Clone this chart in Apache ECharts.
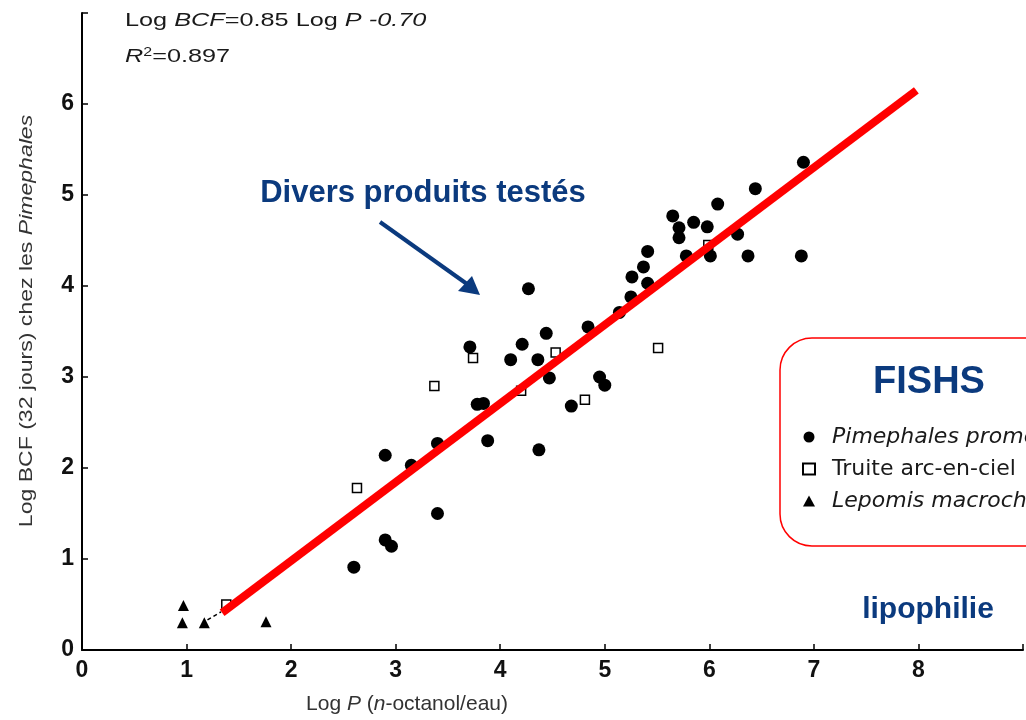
<!DOCTYPE html>
<html>
<head>
<meta charset="utf-8">
<script src="https://cdn.jsdelivr.net/npm/echarts@6/dist/echarts.min.js"></script>
<style>
html,body{margin:0;padding:0;background:#fff;}
#chart{width:1026px;height:720px;}
</style>
</head>
<body>
<div id="chart"></div>
<script>
// ---- data ----
const pimephales = [
  [2.60,0.91],[2.90,1.21],[2.96,1.14],[2.90,2.14],[3.15,2.03],[3.40,2.27],[3.40,1.50],
  [3.88,2.30],[4.37,2.20],[3.78,2.70],[3.84,2.71],[3.71,3.33],[4.10,3.19],[4.21,3.36],
  [4.44,3.48],[4.36,3.19],[4.47,2.99],[4.27,3.97],[4.68,2.68],[4.95,3.00],[5.00,2.91],
  [4.84,3.55],[5.14,3.71],[5.25,3.88],[5.41,4.03],[5.26,4.10],[5.37,4.21],[5.41,4.38],
  [5.65,4.77],[5.71,4.64],[5.71,4.53],[5.78,4.33],[5.85,4.70],[5.98,4.65],[6.08,4.90],
  [6.01,4.33],[6.27,4.57],[6.37,4.33],[6.44,5.07],[6.90,5.36],[6.88,4.33]
];
const truite = [
  [1.38,0.50],[2.63,1.78],[3.37,2.90],[3.74,3.21],[4.20,2.85],[4.53,3.27],[4.81,2.75],
  [5.51,3.32],[5.99,4.45]
];
const lepomis = [[0.97,0.49],[0.96,0.30],[1.17,0.30],[1.76,0.31]];
const regressionX = [1.34, 7.98];
const regressionY = [0.41, 6.15];
const dashX = [1.20, 1.33];
const dashY = [0.33, 0.42];
const xTickLabels = ['0','1','2','3','4','5','6','7','8'];
const yTickLabels = ['0','1','2','3','4','5','6'];
const seriesNames = ['Pimephales promelas','Truite arc-en-ciel','Lepomis macrochirus'];

const FONT = '"Liberation Sans", Arial, sans-serif';
const LEGFONT = '"DejaVu Sans", "Liberation Sans", sans-serif';
const BLUE = '#0b3a7e';
const INK = '#1a1a1a';

const chart = echarts.init(document.getElementById('chart'));
chart.setOption({
  backgroundColor: '#fff',
  animation: false,
  grid: { left: 82, right: -13, top: 13, bottom: 70 },
  xAxis: {
    type: 'value', min: 0, max: 9, interval: 1,
    axisLine: { show: true, onZero: false, lineStyle: { color: '#000', width: 2 } },
    axisTick: { show: true, inside: true, length: 6, lineStyle: { color: '#000', width: 1.5 } },
    splitLine: { show: false },
    axisLabel: {
      margin: 9, color: '#111', fontSize: 23, fontWeight: 'bold', fontFamily: FONT,
      formatter: v => (xTickLabels[Math.round(v)] !== undefined && Math.abs(v - Math.round(v)) < 1e-6) ? xTickLabels[Math.round(v)] : ''
    }
  },
  yAxis: {
    type: 'value', min: 0, max: 7, interval: 1,
    axisLine: { show: true, onZero: false, lineStyle: { color: '#000', width: 2 } },
    axisTick: { show: true, inside: true, length: 6, lineStyle: { color: '#000', width: 1.5 } },
    splitLine: { show: false },
    axisLabel: {
      margin: 8, color: '#111', fontSize: 23, fontWeight: 'bold', fontFamily: FONT,
      formatter: v => (yTickLabels[Math.round(v)] !== undefined) ? yTickLabels[Math.round(v)] : ''
    }
  },
  legend: {
    data: seriesNames,
    orient: 'vertical',
    left: 797, top: 421,
    itemWidth: 12, itemHeight: 11, itemGap: 10, itemTextGap: 12,
    selectedMode: false,
    formatter: n => n === 'Truite arc-en-ciel' ? '{n|' + n + '}' : '{i|' + n + '}',
    textStyle: {
      color: INK, fontFamily: LEGFONT, fontSize: 22,
      rich: {
        i: { fontStyle: 'italic', fontSize: 22, lineHeight: 23, color: INK, fontFamily: LEGFONT, padding: [0, 0, 0, 12] },
        n: { fontSize: 22, lineHeight: 23, color: INK, fontFamily: LEGFONT, padding: [0, 0, 0, 12] }
      }
    }
  },
  series: [
    {
      name: seriesNames[0], type: 'scatter', symbol: 'circle', symbolSize: 13,
      itemStyle: { color: '#000', opacity: 1 }, data: pimephales, z: 3
    },
    {
      name: seriesNames[1], type: 'scatter', symbol: 'rect', symbolSize: 9,
      itemStyle: { color: '#fff', borderColor: '#000', borderWidth: 1.5, opacity: 1 }, data: truite, z: 2
    },
    {
      name: seriesNames[2], type: 'scatter', symbol: 'triangle', symbolSize: 11,
      itemStyle: { color: '#000', opacity: 1 }, data: lepomis, z: 3
    },
    {
      name: 'dash', type: 'line', symbol: 'none',
      lineStyle: { color: '#000', width: 1.5, type: [4, 3] },
      data: dashX.map((x, i) => [x, dashY[i]]), z: 4
    },
    {
      name: 'regression', type: 'line', symbol: 'none',
      lineStyle: { color: '#ff0000', width: 8 },
      data: regressionX.map((x, i) => [x, regressionY[i]]), z: 5
    }
  ],
  graphic: [
    {
      type: 'text', x: 125, y: 21, scaleX: 1.33,
      style: {
        text: 'Log {i|BCF}=0.85 Log {i|P} {i|-0.70}',
        fill: INK, font: '19px ' + FONT, verticalAlign: 'middle',
        rich: { i: { fontStyle: 'italic', fontSize: 19, fill: INK, fontFamily: FONT } }
      }
    },
    {
      type: 'text', x: 125, y: 57, scaleX: 1.33,
      style: {
        text: '{i|R}{s|2}=0.897',
        fill: INK, font: '19px ' + FONT, verticalAlign: 'middle',
        rich: {
          i: { fontStyle: 'italic', fontSize: 19, fill: INK, fontFamily: FONT },
          s: { fontSize: 12, fill: INK, fontFamily: FONT, verticalAlign: 'top', padding: [0, 0, 9, 0] }
        }
      }
    },
    {
      type: 'text', x: 27, y: 321, rotation: Math.PI / 2, scaleX: 1.28,
      style: {
        text: 'Log BCF (32 jours) chez les {i|Pimephales}',
        fill: '#333', font: '18px ' + FONT, align: 'center', verticalAlign: 'middle',
        rich: { i: { fontStyle: 'italic', fontSize: 18, fill: '#333', fontFamily: FONT } }
      }
    },
    {
      type: 'text', x: 407, y: 704,
      style: {
        text: 'Log {i|P} ({i|n}-octanol/eau)',
        fill: '#333', font: '21px ' + FONT, align: 'center', verticalAlign: 'middle',
        rich: { i: { fontStyle: 'italic', fontSize: 21, fill: '#333', fontFamily: FONT } }
      }
    },
    {
      type: 'text', x: 423, y: 193,
      style: { text: 'Divers produits testés', fill: BLUE, font: 'bold 31px ' + FONT, align: 'center', verticalAlign: 'middle' }
    },
    {
      type: 'line', shape: { x1: 380, y1: 222, x2: 467, y2: 284 },
      style: { stroke: BLUE, lineWidth: 4 }
    },
    {
      type: 'polygon', shape: { points: [[480, 295], [458, 291], [472, 276]] },
      style: { fill: BLUE }
    },
    {
      type: 'rect', shape: { x: 780, y: 338, width: 300, height: 208, r: 32 },
      style: { fill: 'none', stroke: '#ff0000', lineWidth: 1.5 }, z: -1
    },
    {
      type: 'text', x: 929, y: 383,
      style: { text: 'FISHS', fill: BLUE, font: 'bold 38px ' + FONT, align: 'center', verticalAlign: 'middle' }
    },
    {
      type: 'text', x: 928, y: 610,
      style: { text: 'lipophilie', fill: BLUE, font: 'bold 30px ' + FONT, align: 'center', verticalAlign: 'middle' }
    }
  ]
});
</script>
</body>
</html>
